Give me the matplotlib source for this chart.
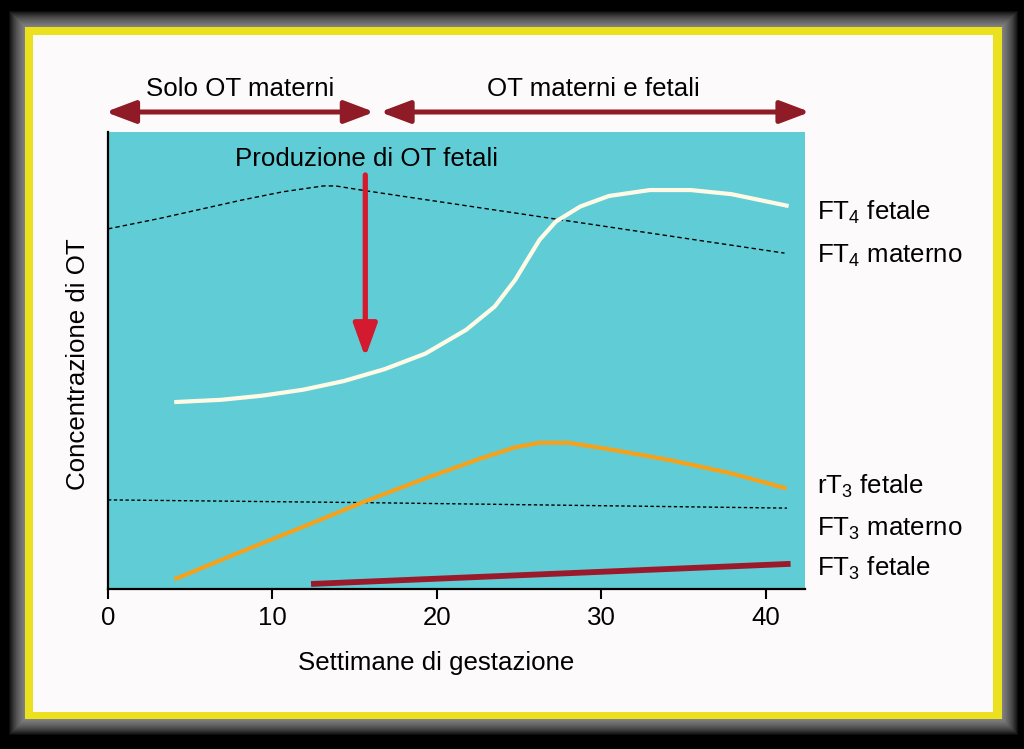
import matplotlib
matplotlib.use("Agg")
import matplotlib.pyplot as plt
import matplotlib.patches as mpatches

plt.rcParams['font.family'] = ['Liberation Sans', 'DejaVu Sans']
plt.rcParams['mathtext.fontset'] = 'custom'
plt.rcParams['mathtext.rm'] = 'Liberation Sans'
plt.rcParams['mathtext.it'] = 'Liberation Sans:italic'
plt.rcParams['mathtext.bf'] = 'Liberation Sans:bold'

# ---------------- data (weeks of gestation, arbitrary concentration 0-100) ----
ft4_fet_x = [4.03, 6.89, 9.37, 11.86, 14.34, 16.82, 19.30, 21.78, 23.52, 24.76,
             25.50, 26.25, 27.24, 28.73, 30.47, 32.96, 35.44, 37.92, 41.40]
ft4_fet_y = [40.9, 41.4, 42.3, 43.6, 45.5, 48.1, 51.5, 56.7, 61.8, 67.6,
             72.0, 76.4, 80.4, 83.7, 86.0, 87.3, 87.3, 86.4, 83.8]

ft4_mat_x = [0.0, 3.16, 5.64, 8.13, 10.61, 13.10, 13.84, 15.57, 41.15]
ft4_mat_y = [78.8, 81.1, 83.1, 85.1, 86.9, 88.2, 88.2, 87.2, 73.5]

rt3_fet_x = [4.03, 8.13, 11.86, 15.58, 19.30, 22.53, 24.76, 26.25, 27.99,
             30.47, 34.20, 37.92, 41.27]
rt3_fet_y = [2.1, 8.2, 13.6, 19.1, 24.2, 28.4, 31.0, 32.0, 32.0,
             30.6, 28.2, 25.3, 22.0]

ft3_mat_x = [0.0, 15.6, 41.3]
ft3_mat_y = [19.5, 18.9, 17.7]

ft3_fet_x = [12.35, 41.52]
ft3_fet_y = [1.1, 5.5]

xticks = [0, 10, 20, 30, 40]
series_labels = [r'$\mathrm{FT_4}$ fetale', r'$\mathrm{FT_4}$ materno',
                 r'$\mathrm{rT_3}$ fetale', r'$\mathrm{FT_3}$ materno',
                 r'$\mathrm{FT_3}$ fetale']
label_baselines_px = [220, 263, 494, 536, 576]

prod_week = 15.65
prod_top, prod_tip = 90.6, 50.7

FS = 18.6

# ---------------- figure ------------------------------------------------------
W, H = 1024, 749
fig = plt.figure(figsize=(W / 100, H / 100), dpi=100, facecolor='black')


def fx(x):
    return x / W


def fy(y):
    return 1 - y / H


def rect_px(x0, y0, x1, y1, **kw):
    r = mpatches.Rectangle((fx(x0), fy(y1)), fx(x1) - fx(x0), fy(y0) - fy(y1),
                           transform=fig.transFigure, **kw)
    fig.add_artist(r)
    return r


# glow around the frame
for i in range(16, 0, -1):
    rect_px(25 - i, 27 - i, 1002 + i, 719 + i, facecolor=(0.78, 0.78, 0.78),
            edgecolor='none', alpha=0.065, zorder=-30)
rect_px(25, 27, 1002, 719, facecolor='#ebe11e', edgecolor='none', zorder=-20)
rect_px(33, 35, 993, 712, facecolor='#fcfafa', edgecolor='none', zorder=-10)

# axes placement
ax_l, ax_r, ax_t, ax_b = 108, 805, 132, 589
ax = fig.add_axes([fx(ax_l), fy(ax_b), fx(ax_r) - fx(ax_l), fy(ax_t) - fy(ax_b)])
ax.set_facecolor('#60cdd6')
ax.set_xlim(0, (ax_r - ax_l) / 16.44)
ax.set_ylim(0, 100)

for s in ['top', 'right']:
    ax.spines[s].set_visible(False)
for s in ['left', 'bottom']:
    ax.spines[s].set_linewidth(1.6)
    ax.spines[s].set_color('black')

ax.set_yticks([])
ax.set_xticks(xticks)
ax.set_xticklabels([str(t) for t in xticks])
ax.tick_params(axis='x', direction='out', length=7.5, width=1.5, pad=5,
               labelsize=FS, colors='black')

# curves
ax.plot(ft4_mat_x, ft4_mat_y, color='black', lw=1.0, linestyle=(0, (3.2, 2.2)))
ax.plot(ft3_mat_x, ft3_mat_y, color='black', lw=1.0, linestyle=(0, (2.4, 1.8)))
ax.plot(ft4_fet_x, ft4_fet_y, color='#fffae6', lw=3.0, solid_capstyle='butt',
        solid_joinstyle='round')
ax.plot(rt3_fet_x, rt3_fet_y, color='#f5a11c', lw=3.0, solid_capstyle='butt',
        solid_joinstyle='round')
ax.plot(ft3_fet_x, ft3_fet_y, color='#9a1a2c', lw=4.2, solid_capstyle='butt')

# production arrow
ax.annotate('', xy=(prod_week, prod_tip), xytext=(prod_week, prod_top),
            arrowprops=dict(arrowstyle='-|>,head_length=1.0,head_width=0.36',
                            mutation_scale=20, lw=3.8, color='#d31a2e',
                            shrinkA=0, shrinkB=0))
ax.text(prod_week + 0.05, (ax_b - 166) / 4.57, 'Produzione di OT fetali',
        ha='center', va='baseline', fontsize=FS, color='black')

# top double arrows
trans = ax.get_xaxis_transform()
yarr = (ax_b - 112) / (ax_b - ax_t)
arrow_col = '#8e1b26'
for x0, x1 in [(-0.15, 16.2), (16.55, 42.7)]:
    ax.annotate('', xy=(x1, yarr), xytext=(x0, yarr), xycoords=trans,
                textcoords=trans, annotation_clip=False,
                arrowprops=dict(arrowstyle='<|-|>,head_length=0.9,head_width=0.34',
                                mutation_scale=20, lw=3.6, color=arrow_col,
                                shrinkA=0, shrinkB=0))

fig.text(fx(240), fy(96), 'Solo OT materni', ha='center', va='baseline', fontsize=FS)
fig.text(fx(593), fy(96), 'OT materni e fetali', ha='center', va='baseline', fontsize=FS)

# axis titles
fig.text(fx(436), fy(670), 'Settimane di gestazione', ha='center', va='baseline',
         fontsize=FS)
fig.text(fx(78), fy(364), 'Concentrazione di OT', ha='center', va='center',
         rotation=90, fontsize=FS)

# series labels
for lab, yb in zip(series_labels, label_baselines_px):
    fig.text(fx(817), fy(yb), lab, ha='left', va='baseline', fontsize=FS)

fig.savefig('out.png', dpi=100, facecolor=fig.get_facecolor())
